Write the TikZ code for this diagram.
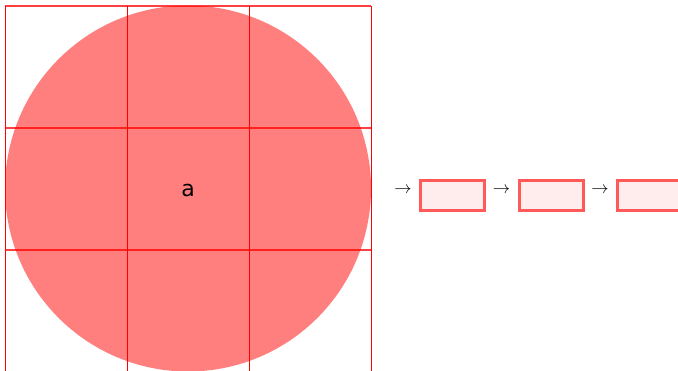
\documentclass[tikz,border=0pt]{standalone}
\usepackage{fontspec}
\setmainfont{DejaVu Sans}
\begin{document}
\begin{tikzpicture}[x=1pt,y=-1pt,
  hline/.style={draw=red,opacity=0.75,line width=1.3pt},
  vline/.style={draw=red,line width=1pt},
  stagebox/.style={draw=red!65!white,line width=3pt,fill=red!7!white,minimum width=64pt,minimum height=30pt,inner sep=0pt},
  arr/.style={inner sep=0pt,font=\fontsize{17}{17}\selectfont}]
\useasboundingbox (0,0) rectangle (678,371);
\fill[red,opacity=0.5] (188,188.5) circle (183);
\node[font=\fontsize{22}{22}\selectfont] (a) at (188,190) {a};
\foreach \y in {6,128,250} \draw[hline] (5,\y) -- (371,\y);
\foreach \x in {5,127,249,371} \draw[vline] (\x,6) -- (\x,371);
\node[arr] (r1) at (403,190) {$\rightarrow$};
\node[stagebox] (b1) at (452.5,195.5) {};
\node[arr] (r2) at (501.5,190) {$\rightarrow$};
\node[stagebox] (b2) at (551,195.5) {};
\node[arr] (r3) at (600,190) {$\rightarrow$};
\node[stagebox] (b3) at (649.5,195.5) {};
\end{tikzpicture}
\end{document}
